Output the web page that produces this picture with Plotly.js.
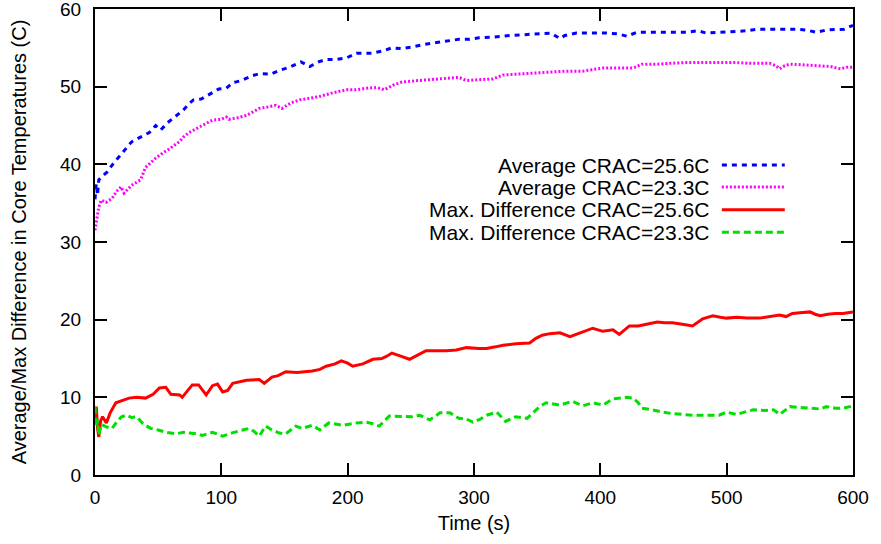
<!DOCTYPE html>
<html>
<head>
<meta charset="utf-8">
<script src="https://cdn.plot.ly/plotly-3.0.1.min.js"></script>
<style>html,body{margin:0;padding:0;background:#fff;}#chart{width:881px;height:544px;}</style>
</head>
<body>
<div id="chart"></div>
<script>
// ---- data ----
const seriesNames = ["Average CRAC=25.6C", "Average CRAC=23.3C", "Max. Difference CRAC=25.6C", "Max. Difference CRAC=23.3C"];

const avg256X = [0,1,2,3,6,9.5,14,19,24,29,36,43,48,52,57,64,70,75,78,84,90,98,104,109,116,124,131,139,146,154,163,170,177,183,191,199,207,219,228,235,243,251,259,267,276,288,296,304,316,328,340,354,361,365,368,372,381,393,405,414,421,429,440,452,468,477,484,495,508,516,524,540,555,563,571,579,587,593,597,600];
const avg256Y = [35.5,37.5,36,38,38.5,39,40,41,42,42.9,43.5,44.1,45,44.4,45.3,46.2,47,47.9,48.3,48.4,49,49.7,49.8,50.5,50.8,51.4,51.7,51.6,52.1,52.5,53.2,52.6,53.2,53.5,53.5,53.7,54.3,54.3,54.6,55,54.9,55.1,55.4,55.6,55.8,56.1,56.1,56.3,56.4,56.6,56.7,56.8,56.9,56.5,56.2,56.6,56.9,56.9,56.9,56.8,56.5,57,57,57,57,57.2,56.9,57,57.1,57.2,57.4,57.4,57.4,57.3,57,57.3,57.4,57.4,57.7,57.9];

const avg233X = [0,1.5,3,5,8.7,13.5,17,20.6,23,29,36,40,48,54,59,66.6,70,74.5,80,85,93,100,104,106,113,120,125,130,137,143,148,155,162,170,177,188,199,207,215,223,229,236,243,257,270,280,288,294,305,315,323,335,346,360,373,386,394,402,415,426,433,445,455,468,481,495,508,520,534,539,542,546,550,562,574,582,590,595,600];
const avg233Y = [31.5,33.2,34.5,35.4,35.1,35.6,36.5,37.1,36.3,37.3,38,39.6,40.8,41.5,42,42.9,43.5,44.1,44.6,45,45.7,45.8,46.1,45.8,46,46.3,46.8,47.2,47.4,47.6,47.2,47.9,48.3,48.5,48.7,49.2,49.6,49.6,49.8,49.9,49.6,50.2,50.6,50.8,51,51.1,51.2,50.8,50.9,51,51.5,51.6,51.7,51.9,52,52,52.2,52.4,52.4,52.4,52.9,52.9,53,53.1,53.1,53.1,53.1,53,53,52.7,52.3,52.7,52.9,52.8,52.7,52.6,52.3,52.5,52.5];

const max256X = [0,1,2,3,4.5,6,9,12,16.5,21,27,33,40,46,51,56,60,67,69,73,77,82,85,88,93,97,101,105,109,115,120,130,134,140,145,151,160,172,178,183,190,195,200,204,212,220,227,231,235,242,249,255,262,270,278,286,294,304,310,317,323,333,344,349,354,360,368,376,385,394,402,410,415,423,430,437,445,451,457,465,473,481,489,495,500,508,516,526,534,542,547,552,558,566,570,574,580,586,592,596,600];
const max256Y = [6.8,8.8,6,4.9,7,7.5,6.7,8,9.3,9.6,9.9,10,9.9,10.4,11.2,11.3,10.4,10.3,10,10.8,11.6,11.6,11,10.3,11.5,11.7,10.7,10.9,11.8,12,12.2,12.3,11.8,12.6,12.8,13.3,13.2,13.4,13.6,14,14.3,14.7,14.4,14,14.3,14.9,15,15.3,15.7,15.3,14.9,15.4,16,16,16,16.1,16.4,16.3,16.3,16.5,16.7,16.9,17,17.6,18,18.2,18.3,17.8,18.3,18.9,18.5,18.7,18.1,19.2,19.2,19.4,19.7,19.6,19.6,19.4,19.2,20.1,20.5,20.3,20.2,20.3,20.2,20.2,20.4,20.6,20.4,20.8,20.9,21,20.7,20.5,20.7,20.8,20.8,20.9,21];

const max233X = [0,1,2,3,5,9,13.5,17,21,25,29,33,38,44,50,56,64,70,75,80,85,93,101,108,117,122,126,130,135,140,146,151,159,164,172,178,185,196,207,215,220,225,233,243,251,257,265,273,281,288,294,299,305,310,318,325,333,342,347,352,357,368,378,386,394,402,410,415,421,426,430,433,441,449,457,465,473,484,494,500,508,514,521,530,537,542,550,557,563,574,579,586,592,600];
const max233Y = [8.8,6.2,7.1,5.1,6.5,6.2,6,6.8,7.5,7.7,7.4,7.5,6.6,6,5.8,5.5,5.3,5.5,5.4,5.3,5.1,5.5,5,5.4,5.8,6,5.6,5,6.3,5.8,5.4,5.3,6.3,6,6.4,5.8,6.7,6.4,6.7,6.8,6.6,6.3,7.6,7.5,7.5,7.7,7.1,8,8,7.3,7.2,6.8,7.2,7.7,8.1,6.9,7.5,7.3,8,8.8,9.3,9,9.5,8.9,9.3,9,9.8,9.9,10,9.9,9.3,8.6,8.4,8.1,7.9,7.8,7.7,7.7,7.7,8.1,7.8,8.1,8.4,8.3,8.4,7.8,8.8,8.7,8.6,8.5,8.8,8.6,8.6,8.9];

const xTicks = [0,100,200,300,400,500,600];
const yTicks = [0,10,20,30,40,50,60];

// ---- styles ----
const styles = [
  {color:"#0000ff", dash:"5px,5px", width:3},
  {color:"#ff00ff", dash:"2px,2px", width:3},
  {color:"#ff0000", dash:"solid", width:3},
  {color:"#00e000", dash:"7px,4px", width:3}
];
const xs = [avg256X, avg233X, max256X, max233X];
const ys = [avg256Y, avg233Y, max256Y, max233Y];

const traces = seriesNames.map((n,i)=>({
  type:"scatter", mode:"lines", name:n, x:xs[i], y:ys[i],
  line:{color:styles[i].color, dash:styles[i].dash, width:styles[i].width},
  showlegend:false, hoverinfo:"skip", cliponaxis:true
}));

const FONT = "Liberation Sans, Arial, Helvetica, sans-serif";

// manual legend (right-aligned text with the line sample to its right, gnuplot style)
const legTextX = 0.8127, legLineX0 = 0.827, legLineX1 = 0.910;
const legY = [0.665, 0.618, 0.569, 0.521];
const annotations = seriesNames.map((n,i)=>({
  xref:"paper", yref:"paper", x:legTextX, y:legY[i], xanchor:"right", yanchor:"middle",
  text:n, showarrow:false, font:{family:FONT, size:21, color:"#000"}
}));
const shapes = seriesNames.map((n,i)=>({
  type:"line", xref:"paper", yref:"paper", x0:legLineX0, x1:legLineX1, y0:legY[i], y1:legY[i],
  line:{color:styles[i].color, dash:styles[i].dash, width:styles[i].width}
}));

const axisCommon = {
  showgrid:false, zeroline:false, showline:true, linecolor:"#000", linewidth:2,
  mirror:"ticks", ticks:"inside", ticklen:12, tickwidth:2, tickcolor:"#000",
  ticklabeloverflow:"allow",
  tickfont:{family:FONT, size:19, color:"#000"}
};

const layout = {
  width:881, height:544,
  margin:{l:95, r:28, t:9, b:69},
  paper_bgcolor:"#fff", plot_bgcolor:"#fff",
  font:{family:FONT, color:"#000"},
  xaxis:Object.assign({}, axisCommon, {
    range:[0,600.001], tickvals:xTicks, ticktext:xTicks.map(String), ticklabelstandoff:4,
    title:{text:"Time (s)", font:{family:FONT, size:20, color:"#000"}, standoff:9}
  }),
  yaxis:Object.assign({}, axisCommon, {
    range:[0,60.001], tickvals:yTicks, ticktext:yTicks.map(String), ticklabelstandoff:8,
    title:{text:"Average/Max Difference in Core Temperatures (C)", font:{family:FONT, size:20, color:"#000"}, standoff:28}
  }),
  annotations:annotations,
  shapes:shapes
};

Plotly.newPlot("chart", traces, layout, {displayModeBar:false, staticPlot:true});
</script>
</body>
</html>
